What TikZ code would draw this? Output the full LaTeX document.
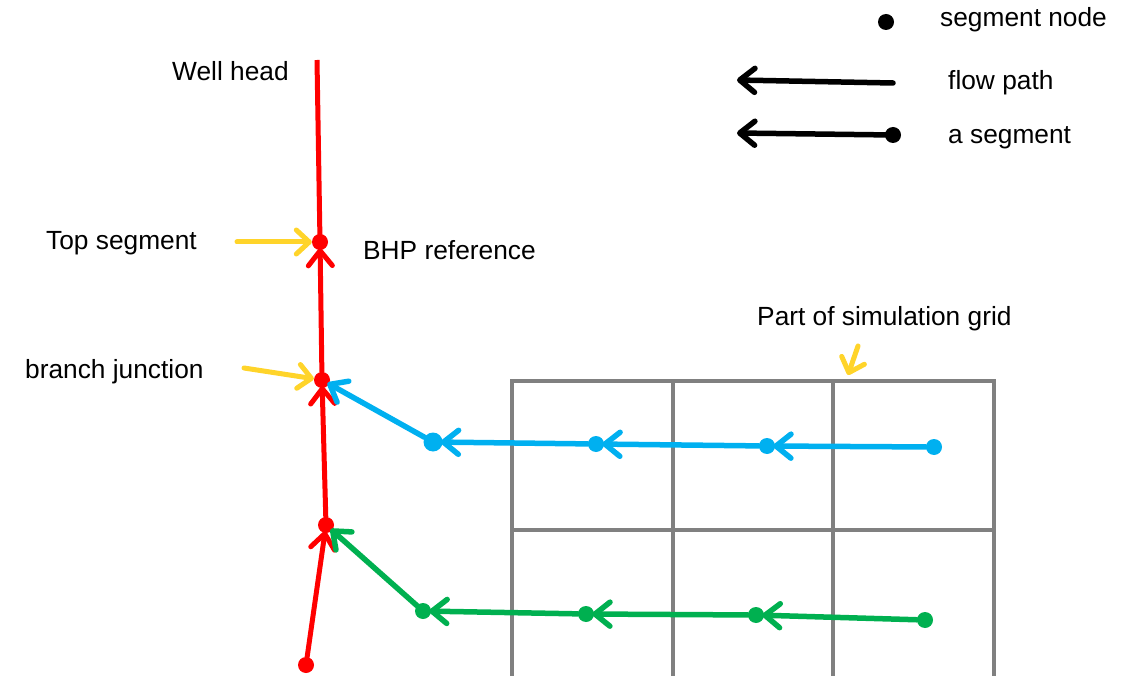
\documentclass[tikz,border=0pt]{standalone}
\usepackage{fontspec}
\setmainfont{Liberation Sans}
\usetikzlibrary{arrows.meta}
\definecolor{wellred}{HTML}{FF0000}
\definecolor{branchblue}{HTML}{00B0F0}
\definecolor{branchgreen}{HTML}{00B050}
\definecolor{gridgray}{HTML}{808080}
\definecolor{pointer}{HTML}{FFD42A}
\tikzset{
  barb/.tip={Straight Barb[length=15pt,width=24pt,line cap=round,line join=round]},
  seg/.style={circle,fill,inner sep=0pt,minimum size=16pt},
  bigseg/.style={circle,fill,inner sep=0pt,minimum size=19pt},
  flow/.style={line width=5.5pt,-barb,line cap=round,shorten >=-2pt},
  well/.style={line width=5pt,wellred},
  gridline/.style={line width=3.6pt,gridgray},
  callout/.style={line width=5pt,pointer,-{Straight Barb[length=13pt,width=24pt,line cap=round,line join=round]},line cap=round},
  label/.style={font=\fontsize{26.3pt}{31pt}\selectfont,anchor=base west,inner sep=0pt}
}
\begin{document}
\begin{tikzpicture}[x=1pt,y=-1pt]
  \useasboundingbox (0,0) rectangle (1135,676);

  % simulation grid (cut off at the lower edge)
  \draw[gridline] (512,676) -- (512,381) -- (994,381) -- (994,676);
  \draw[gridline] (673,381) -- (673,676);
  \draw[gridline] (833,381) -- (833,676);
  \draw[gridline] (512,530) -- (994,530);

  % main well bore
  \node[seg,wellred] (r0) at (306,665) {};
  \node[seg,wellred] (r1) at (326,525) {};
  \node[seg,wellred] (r2) at (322,380) {};
  \node[seg,wellred] (r3) at (320,242) {};
  \coordinate (head) at (317,60);
  \draw[well] (r3.center) -- (head);
  \draw[well,flow,line width=5pt] (r0) -- (r1);
  \draw[well,flow,line width=5pt] (r1) -- (r2);
  \draw[well,flow,line width=5pt] (r2) -- (r3);

  % upper branch
  \node[bigseg,branchblue] (b1) at (433,442) {};
  \node[seg,branchblue] (b2) at (596,444) {};
  \node[seg,branchblue] (b3) at (767,446) {};
  \node[seg,branchblue] (b4) at (934,447) {};
  \draw[flow,branchblue] (b4) -- (b3);
  \draw[flow,branchblue] (b3) -- (b2);
  \draw[flow,branchblue] (b2) -- (b1);
  \draw[flow,branchblue] (b1) -- (r2);

  % lower branch
  \node[seg,branchgreen] (g1) at (423,611) {};
  \node[seg,branchgreen] (g2) at (586,614) {};
  \node[seg,branchgreen] (g3) at (756,615) {};
  \node[seg,branchgreen] (g4) at (925,620) {};
  \draw[flow,branchgreen] (g4) -- (g3);
  \draw[flow,branchgreen] (g3) -- (g2);
  \draw[flow,branchgreen] (g2) -- (g1);
  \draw[flow,branchgreen] (g1) -- (r1);

  % labels and pointers
  \node[label] (lhead) at (172,81) {Well head};
  \node[label] (ltop) at (46,250) {Top segment};
  \node[label] (lbhp) at (363,260) {BHP reference};
  \node[label] (ljunc) at (25,378) {branch junction};
  \node[label] (lgrid) at (757,325) {Part of simulation grid};

  \coordinate (ptop) at (237,242);
  \coordinate (pjunc) at (244,368);
  \coordinate (pgrid) at (858,346);
  \coordinate (tgrid) at (848,375);
  \draw[callout] (ptop) -- (r3);
  \draw[callout] (pjunc) -- (r2);
  \draw[callout] (pgrid) -- (tgrid);

  % legend
  \node[seg,black] (kdot) at (886,22) {};
  \node[label] (knode) at (940,27) {segment node};
  \coordinate (kf1) at (893,83);
  \coordinate (kf0) at (737,80);
  \draw[flow,black,shorten >=0pt] (kf1) -- (kf0);
  \node[label] (kflow) at (948,90) {flow path};
  \node[seg,black] (ks) at (893,135) {};
  \coordinate (ks0) at (737,133);
  \draw[flow,black,shorten >=0pt] (ks.center) -- (ks0);
  \node[label] (kseg) at (948,144) {a segment};
\end{tikzpicture}
\end{document}
